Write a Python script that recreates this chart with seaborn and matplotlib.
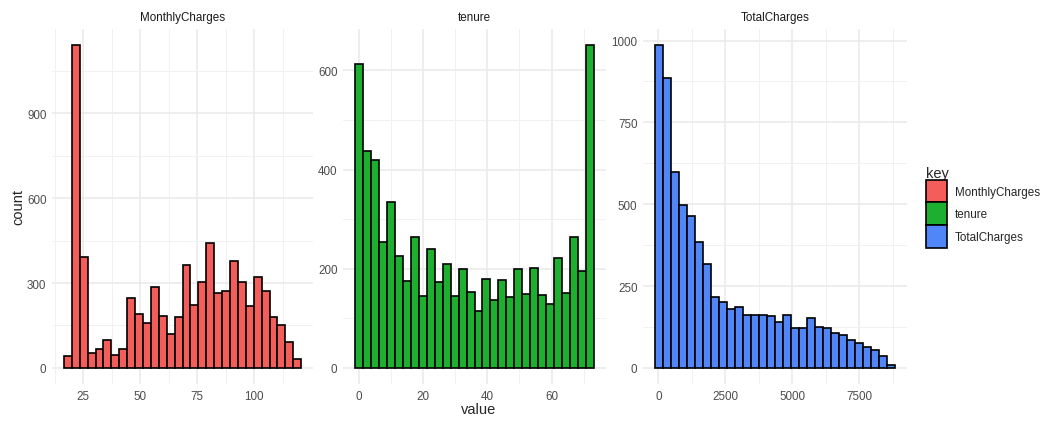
import matplotlib
matplotlib.use("Agg")
import matplotlib.pyplot as plt
from matplotlib.patches import Patch
import numpy as np
import pandas as pd
import seaborn as sns

# Histogram counts (30 bins per panel)
keys = ['MonthlyCharges', 'tenure', 'TotalCharges']
monthly_counts = [43, 1141, 392, 52, 65, 100, 46, 65, 248, 191, 158, 287, 184, 118, 180,
                  364, 222, 304, 442, 265, 271, 379, 305, 220, 320, 271, 179, 153, 92, 32]
tenure_counts = [613, 438, 419, 254, 335, 226, 175, 264, 145, 239, 173, 209, 145, 199, 154,
                 115, 180, 136, 178, 142, 199, 148, 202, 146, 128, 222, 152, 263, 195, 651]
total_counts = [986, 885, 597, 498, 465, 386, 318, 218, 201, 181, 186, 163, 161, 163, 159,
                141, 163, 123, 123, 151, 125, 122, 106, 99, 85, 75, 64, 55, 37, 8]
# data min / max of each variable (bins are centred on them)
value_ranges = {'MonthlyCharges': (18.25, 118.75), 'tenure': (0, 72), 'TotalCharges': (18.8, 8684.8)}
colors = {'MonthlyCharges': '#F35E5A', 'tenure': '#1DAF2F', 'TotalCharges': '#5086F8'}

x_major = {'MonthlyCharges': [25, 50, 75, 100], 'tenure': [0, 20, 40, 60],
           'TotalCharges': [0, 2500, 5000, 7500]}
x_minor = {'MonthlyCharges': [12.5, 37.5, 62.5, 87.5, 112.5], 'tenure': [10, 30, 50, 70],
           'TotalCharges': [1250, 3750, 6250, 8750]}
y_major = {'MonthlyCharges': [0, 300, 600, 900], 'tenure': [0, 200, 400, 600],
           'TotalCharges': [0, 250, 500, 750, 1000]}
y_minor = {'MonthlyCharges': [150, 450, 750, 1050], 'tenure': [100, 300, 500],
           'TotalCharges': [125, 375, 625, 875]}

counts = {'MonthlyCharges': monthly_counts, 'tenure': tenure_counts, 'TotalCharges': total_counts}

rows = []
bin_w = {}
for k in keys:
    lo, hi = value_ranges[k]
    w = (hi - lo) / 29
    bin_w[k] = w
    centers = lo + w * np.arange(30)
    for c, n in zip(centers, counts[k]):
        rows.append({'key': k, 'value': c, 'count': n})
df = pd.DataFrame(rows)

sns.set_style('white')
plt.rcParams['font.family'] = ['Liberation Sans', 'DejaVu Sans']

fig = plt.figure(figsize=(10.55, 4.27), dpi=100)
W, H = 1055, 427
panels = {'MonthlyCharges': (52, 261), 'tenure': (343, 263), 'TotalCharges': (643, 264)}
top, bottom = 30, 385
tick_fs, title_fs = 8.4, 10.5

for k in keys:
    x0, pw = panels[k]
    ax = fig.add_axes([x0 / W, 1 - bottom / H, pw / W, (bottom - top) / H])
    sub = df[df['key'] == k]
    lo, hi = value_ranges[k]
    w = bin_w[k]
    sns.histplot(data=sub, x='value', weights='count', binwidth=w,
                 binrange=(lo - w / 2, hi + w / 2), color=colors[k],
                 edgecolor='black', linewidth=1.2, alpha=1, ax=ax)
    e0, e1 = lo - w / 2, hi + w / 2
    span = e1 - e0
    ax.set_xlim(e0 - 0.05 * span, e1 + 0.05 * span)
    ymax = max(counts[k])
    ax.set_ylim(-0.05 * ymax, 1.05 * ymax)
    ax.set_xticks(x_major[k])
    ax.set_xticks(x_minor[k], minor=True)
    ax.set_yticks(y_major[k])
    ax.set_yticks(y_minor[k], minor=True)
    ax.set_xticklabels([str(t) for t in x_major[k]])
    ax.set_yticklabels([str(t) for t in y_major[k]])
    ax.tick_params(which='both', length=0, labelsize=tick_fs, labelcolor='#4D4D4D', pad=4)
    ax.grid(which='major', color='#EBEBEB', lw=1.2)
    ax.grid(which='minor', color='#F1F1F1', lw=0.7)
    ax.set_axisbelow(True)
    for s in ax.spines.values():
        s.set_visible(False)
    ax.set_xlabel('')
    ax.set_ylabel('')
    ax.text(0.5, 1 + 12 / (bottom - top), k, transform=ax.transAxes, ha='center', va='center',
            fontsize=tick_fs, color='#1A1A1A')

fig.text(18 / W, 1 - 207 / H, 'count', rotation=90, ha='center', va='center', fontsize=title_fs)
fig.text(479 / W, 1 - 410 / H, 'value', ha='center', va='center', fontsize=title_fs)

handles = [Patch(facecolor=colors[k], edgecolor='black', linewidth=1.2) for k in keys]
leg = fig.legend(handles, keys, loc='upper left', bbox_to_anchor=(920 / W, 1 - 161 / H),
                 frameon=False, fontsize=tick_fs, title='key', title_fontsize=title_fs,
                 handlelength=1.8, handleheight=2.6, labelspacing=0.0, handletextpad=0.7,
                 borderpad=0, alignment='left')

fig.savefig('out.png', dpi=100)
